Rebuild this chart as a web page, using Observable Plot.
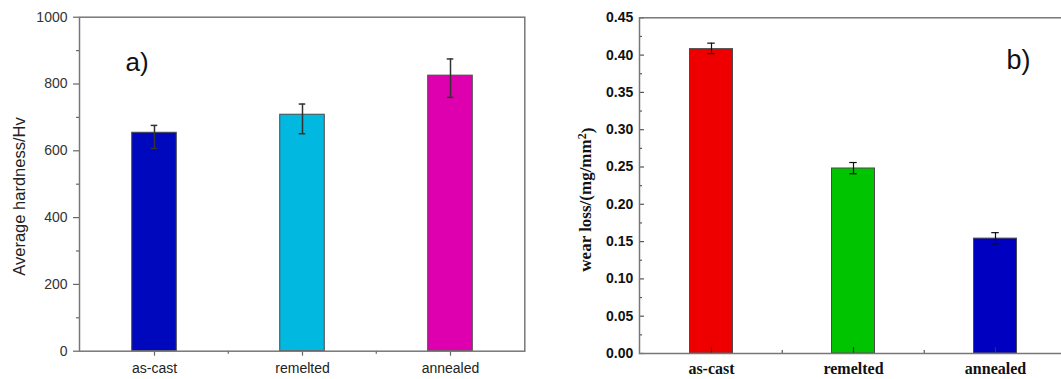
<!DOCTYPE html>
<html><head><meta charset="utf-8">
<script src="https://cdn.jsdelivr.net/npm/d3@7"></script>
<script src="https://cdn.jsdelivr.net/npm/@observablehq/plot@0.6"></script>
<style>
html,body{margin:0;padding:0;background:#fff;overflow:hidden;}
#wrap{position:relative;width:1061px;height:379px;overflow:hidden;background:#fff;}
#a,#b{position:absolute;top:0;}
#a{left:0;width:530px;}
#b{left:530px;width:545px;}
svg{overflow:visible;max-width:none !important;}
</style></head>
<body><div id="wrap"><div id="a"></div><div id="b"></div></div>
<script>
// ---- data ----
const categories = ["as-cast", "remelted", "annealed"];
// panel a: hardness
const hardness = [654, 708, 825];
const hardnessLow = [607, 651, 760];
const hardnessHigh = [676, 740, 875];
const colorsA = ["#0008BE", "#00B8E0", "#DE00AE"];
const yMajorA = [0, 200, 400, 600, 800, 1000];
const yMinorA = [100, 300, 500, 700, 900];
// panel b: wear loss
const wear = [0.408, 0.248, 0.154];
const wearLow = [0.402, 0.241, 0.147];
const wearHigh = [0.416, 0.256, 0.162];
const colorsB = ["#EE0000", "#00C400", "#0000C0"];
const yMajorB = [0, 0.05, 0.10, 0.15, 0.20, 0.25, 0.30, 0.35, 0.40, 0.45];
const yMinorB = [0.025, 0.075, 0.125, 0.175, 0.225, 0.275, 0.325, 0.375, 0.425];

const H = 379;
const sans = "'Liberation Sans', Arial, Helvetica, sans-serif";
const serif = "'Liberation Serif', 'Times New Roman', serif";

// ---- panel a ----
const WA = 530;
const mA = {left: 79, right: 5.7, top: 16.7, bottom: 28.3};
const stepA = (WA - mA.left - mA.right) / categories.length;
const plotHA = H - mA.top - mA.bottom;
const dataA = categories.map((c, i) => ({cat: c, v: hardness[i], lo: hardnessLow[i], hi: hardnessHigh[i], color: colorsA[i]}));
const barInsetA = (stepA - 45) / 2;
const capInsetA = (stepA - 7) / 2;

const chartA = Plot.plot({
  width: WA, height: H,
  marginLeft: mA.left, marginRight: mA.right, marginTop: mA.top, marginBottom: mA.bottom,
  style: {fontFamily: sans, background: "transparent", overflow: "visible", maxWidth: "none"},
  x: {domain: categories, padding: 0, label: null},
  y: {domain: [0, 1000], label: null},
  color: {type: "identity"},
  marks: [
    Plot.barY(dataA, {x: "cat", y: "v", fill: "color", stroke: "#4a4a4a", strokeWidth: 1, insetLeft: barInsetA, insetRight: barInsetA}),
    Plot.ruleX(dataA, {x: "cat", y1: "lo", y2: "hi", stroke: "#333", strokeWidth: 1.5}),
    Plot.tickY(dataA, {x: "cat", y: "hi", stroke: "#333", strokeWidth: 1.5, insetLeft: capInsetA, insetRight: capInsetA}),
    Plot.tickY(dataA, {x: "cat", y: "lo", stroke: "#333", strokeWidth: 1.5, insetLeft: capInsetA, insetRight: capInsetA}),
    Plot.axisY({ticks: yMajorA, tickSize: 6, tickPadding: 6, fontSize: 14, fill: "#333", stroke: "#666", strokeWidth: 1.2, tickFormat: d => String(d), label: null}),
    Plot.axisY({ticks: yMinorA, tickSize: 3, stroke: "#666", strokeWidth: 1.2, tickFormat: () => "", label: null}),
    Plot.axisX({tickSize: 5, tickPadding: 7, fontSize: 14, fill: "#222", stroke: "#666", strokeWidth: 1.2, label: null}),
    Plot.tickX(categories.slice(1), {x: d => d, dx: -stepA / 2, insetTop: plotHA, insetBottom: -3, stroke: "#666", strokeWidth: 1.2}),
    Plot.frame({stroke: "#777", strokeWidth: 1.5}),
    Plot.text(["Average hardness/Hv"], {text: d => d, frameAnchor: "left", textAnchor: "middle", lineAnchor: "middle", dx: -59.5, dy: 12.3, rotate: -90, fontSize: 16.5, fill: "#222"}),
    Plot.text(["a)"], {text: d => d, frameAnchor: "top-left", dx: 46, dy: 54, lineAnchor: "bottom", textAnchor: "start", fontSize: 26, fill: "#111"})
  ]
});
document.getElementById("a").appendChild(chartA);

// ---- panel b ----
const WB = 545;
const mB = {left: 109, right: 8.5, top: 17.3, bottom: 26};
const plotWB = WB - mB.left - mB.right;
const stepB = plotWB / categories.length;
const plotHB = H - mB.top - mB.bottom;
const dataB = categories.map((c, i) => ({cat: c, v: wear[i], lo: wearLow[i], hi: wearHigh[i], color: colorsB[i]}));
const barInsetB = (stepB - 43.5) / 2;
const capInsetB = (stepB - 8) / 2;

const chartB = Plot.plot({
  width: WB, height: H,
  marginLeft: mB.left, marginRight: mB.right, marginTop: mB.top, marginBottom: mB.bottom,
  style: {fontFamily: sans, background: "transparent", overflow: "visible", maxWidth: "none"},
  x: {domain: categories, padding: 0, label: null},
  y: {domain: [0, 0.45], label: null},
  color: {type: "identity"},
  marks: [
    Plot.barY(dataB, {x: "cat", y: "v", fill: "color", stroke: "#4a4a4a", strokeWidth: 1, insetLeft: barInsetB, insetRight: barInsetB}),
    Plot.ruleX(dataB, {x: "cat", y1: "lo", y2: "hi", stroke: "#111", strokeWidth: 1.2}),
    Plot.tickY(dataB, {x: "cat", y: "hi", stroke: "#111", strokeWidth: 1.2, insetLeft: capInsetB, insetRight: capInsetB}),
    Plot.tickY(dataB, {x: "cat", y: "lo", stroke: "#111", strokeWidth: 1.2, insetLeft: capInsetB, insetRight: capInsetB}),
    Plot.axisY({ticks: yMajorB, tickSize: 0, tickPadding: 6.3, fontSize: 14, fontWeight: "bold", fill: "#111", tickFormat: d3.format(".2f"), label: null}),
    Plot.tickY(yMajorB, {y: d => d, insetRight: plotWB - 5, stroke: "#555", strokeWidth: 1.2}),
    Plot.tickY(yMinorB, {y: d => d, insetRight: plotWB - 3, stroke: "#555", strokeWidth: 1.2}),
    Plot.axisX({tickSize: 0, tickPadding: 9, fontSize: 16, fontWeight: "bold", fontFamily: serif, fill: "#111", label: null}),
    Plot.tickX(categories, {x: d => d, insetTop: plotHB - 6, stroke: "#333", strokeWidth: 1.2}),
    Plot.tickX(categories.slice(1), {x: d => d, dx: -stepB / 2, insetTop: plotHB - 3, stroke: "#555", strokeWidth: 1.2}),
    Plot.frame({stroke: "#777", strokeWidth: 1.5}),
    Plot.text(["wear loss/(mg/mm2)"], {text: d => d, frameAnchor: "left", textAnchor: "middle", lineAnchor: "middle", dx: -54, dy: 14, rotate: -90, fontSize: 17, fontWeight: "bold", fontFamily: serif, fill: "#111"}),
    Plot.text(["b)"], {text: d => d, frameAnchor: "top-left", dx: 367, dy: 51, lineAnchor: "bottom", textAnchor: "start", fontSize: 27, fill: "#111"})
  ]
});
document.getElementById("b").appendChild(chartB);

// superscript in the unit label
d3.select(chartB).selectAll("text").filter(function() { return this.textContent === "wear loss/(mg/mm2)"; })
  .each(function() {
    const t = d3.select(this);
    t.text("");
    t.append("tspan").text("wear loss/(mg/mm");
    t.append("tspan").attr("dy", "-0.45em").attr("font-size", "12").text("2");
    t.append("tspan").attr("dy", "0.45em").text(")");
  });
</script>
</body></html>
